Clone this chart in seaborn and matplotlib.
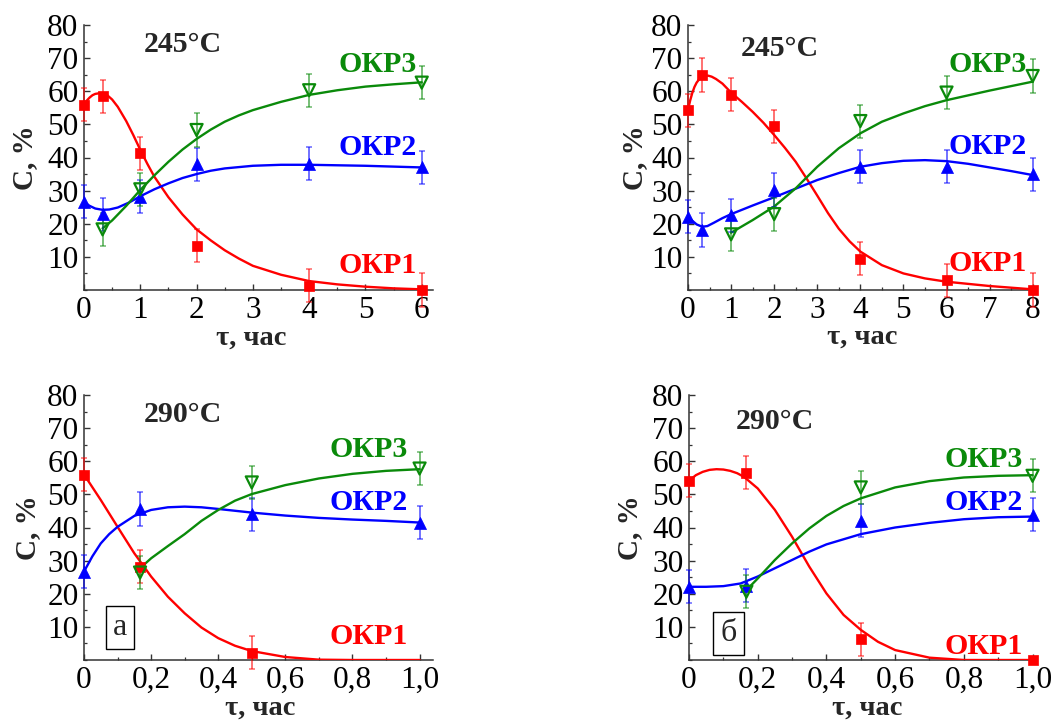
import matplotlib
matplotlib.use("Agg")
import matplotlib.pyplot as plt
from matplotlib.ticker import MultipleLocator, FixedLocator
import seaborn as sns

RED, BLUE, GREEN = "#ff0000", "#0000ff", "#0a8a0a"

# ---------- 245 °C, sample а (top left) ----------
t_a245 = [0, 0.33, 1, 2, 4, 6]
okr1_a245 = [56, 58.5, 41.3, 13.4, 1.3, 0]
okr2_a245 = [26.6, 22.9, 28.1, 38, 38.1, 37]
t3_a245 = [0.33, 1, 2, 4, 6]
okr3_a245 = [18.3, 30.4, 48.3, 60.3, 62.6]
err1_a245 = [5, 5, 5, 5, 5, 5]
err2_a245 = [5, 5, 5, 5, 5, 5]
err3_a245 = [5, 5, 5, 5, 5]

fit1_t_a245 = [0, 0.05, 0.1, 0.15, 0.2, 0.27, 0.33, 0.4, 0.5, 0.6, 0.75, 0.875, 1, 1.125, 1.25,
               1.5, 1.75, 2, 2.25, 2.5, 2.75, 3, 3.5, 4, 4.5, 5, 5.5, 6]
fit1_c_a245 = [56, 57.2, 58.1, 58.8, 59.2, 59.4, 59.4, 59.0, 57.5, 55.3, 51.0, 46.8, 42.3, 38.1, 34.2,
               28.0, 22.8, 18.3, 15.0, 12.0, 9.5, 7.3, 4.6, 2.7, 1.7, 1.0, 0.5, 0.2]
fit2_t_a245 = [0, 0.1, 0.2, 0.33, 0.45, 0.6, 0.8, 1, 1.25, 1.5, 1.75, 2, 2.25, 2.5, 3, 3.5, 4, 5, 6]
fit2_c_a245 = [26.5, 25.4, 24.6, 24.2, 24.3, 24.9, 26.4, 28.3, 30.4, 32.2, 33.8, 35.0, 36.0, 36.7,
               37.5, 37.8, 37.8, 37.5, 37]
fit3_t_a245 = [0.33, 0.5, 0.75, 1, 1.25, 1.5, 1.75, 2, 2.25, 2.5, 2.75, 3, 3.5, 4, 4.5, 5, 5.5, 6]
fit3_c_a245 = [18.6, 21, 25.4, 30.2, 34.6, 38.7, 42.4, 45.6, 48.4, 50.8, 52.7, 54.3, 56.8, 58.9,
               60.3, 61.4, 62.1, 62.7]

# ---------- 245 °C, sample б (top right) ----------
t_b245 = [0, 0.33, 1, 2, 4, 6, 8]
okr1_b245 = [54.3, 64.9, 59, 49.4, 9.4, 3, 0]
okr2_b245 = [22.1, 18.1, 22.6, 30.2, 37.2, 37.2, 35]
t3_b245 = [1, 2, 4, 6, 8]
okr3_b245 = [16.8, 22.9, 51, 59.6, 64.6]
err1_b245 = [5, 5, 5, 5, 5, 5, 5]
err2_b245 = [5, 5, 5, 5, 5, 5, 5]
err3_b245 = [5, 5, 5, 5, 5]

fit1_t_b245 = [0, 0.05, 0.1, 0.15, 0.2, 0.27, 0.33, 0.4, 0.47, 0.55, 0.65, 0.8, 1, 1.25, 1.5, 1.75,
               2, 2.25, 2.5, 2.75, 3, 3.25, 3.5, 3.75, 4, 4.5, 5, 5.5, 6, 7, 8]
fit1_c_b245 = [54.3, 57.2, 59.5, 61.3, 62.6, 63.8, 64.4, 64.7, 64.7, 64.4, 63.7, 62.3, 59.6, 56.8,
               53.8, 50.5, 46.8, 42.9, 38.7, 33.7, 28.5, 23.2, 18.5, 14.7, 11.6, 7.5, 5, 3.5, 2.5,
               1.2, 0.2]
fit2_t_b245 = [0, 0.1, 0.2, 0.33, 0.45, 0.6, 0.8, 1, 1.5, 2, 2.5, 3, 3.5, 4, 4.5, 5, 5.5, 6, 6.5,
               7, 7.5, 8]
fit2_c_b245 = [22.1, 20.9, 19.8, 19.1, 19.3, 20.3, 21.7, 22.9, 25.5, 28, 30.6, 33.2, 35.3, 37.2,
               38.3, 39, 39.2, 38.9, 38.1, 37, 35.9, 34.7]
fit3_t_b245 = [1, 1.5, 2, 2.5, 3, 3.5, 4, 4.5, 5, 5.5, 6, 7, 8]
fit3_c_b245 = [17.3, 21.1, 25.2, 30.7, 37.2, 42.8, 47.3, 50.8, 53.3, 55.5, 57.3, 60.2, 62.9]

# ---------- 290 °C, sample а (bottom left) ----------
t_a290 = [0, 0.167, 0.5]
okr1_a290 = [56, 28.2, 2.2]
t2_a290 = [0, 0.167, 0.5, 1]
okr2_a290 = [26.7, 45.6, 44, 41.4]
t3_a290 = [0.167, 0.5, 1]
okr3_a290 = [26.4, 53.6, 57.8]
err1_a290 = [5, 5, 5]
err2_a290 = [5, 5, 5, 5]
err3_a290 = [5, 5, 5]

fit1_t_a290 = [0, 0.05, 0.1, 0.15, 0.2, 0.25, 0.3, 0.35, 0.4, 0.45, 0.5, 0.6, 0.7, 0.8, 0.9, 1.0]
fit1_c_a290 = [56, 48.3, 40.2, 32.2, 25.2, 19.1, 14.1, 9.8, 6.6, 4.3, 2.7, 0.9, 0.1, 0, 0, 0]
fit2_t_a290 = [0, 0.025, 0.05, 0.075, 0.1, 0.15, 0.2, 0.25, 0.3, 0.35, 0.4, 0.5, 0.6, 0.7, 0.8,
               0.9, 1.0]
fit2_c_a290 = [26.7, 31.3, 35.2, 38.0, 40.2, 43.5, 45.3, 46.1, 46.3, 46.1, 45.6, 44.5, 43.6, 42.9,
               42.4, 42, 41.5]
fit3_t_a290 = [0.167, 0.2, 0.25, 0.3, 0.35, 0.4, 0.45, 0.5, 0.6, 0.7, 0.8, 0.9, 1.0]
fit3_c_a290 = [27.7, 30.7, 34.4, 38, 42, 45.3, 48.1, 50.1, 52.8, 54.8, 56.2, 57.1, 57.6]

# ---------- 290 °C, sample б (bottom right) ----------
t_b290 = [0, 0.167, 0.5, 1]
okr1_b290 = [54.1, 56.6, 6.3, 0]
okr2_b290 = [22.1, 22.4, 42, 43.8]
t3_b290 = [0.167, 0.5, 1]
okr3_b290 = [20.6, 52.1, 55.6]
err1_b290 = [5, 5, 5, 0]
err2_b290 = [5, 5, 5, 5]
err3_b290 = [5, 5, 5]

fit1_t_b290 = [0, 0.02, 0.04, 0.06, 0.08, 0.1, 0.12, 0.14, 0.16, 0.2, 0.25, 0.3, 0.35, 0.4, 0.45,
               0.5, 0.55, 0.6, 0.7, 0.8, 0.9, 1.0]
fit1_c_b290 = [54.1, 55.8, 56.8, 57.4, 57.6, 57.5, 57.1, 56.4, 55.3, 51.8, 45.3, 37.2, 28.2, 20.1,
               13.6, 9.1, 5.5, 3, 0.7, 0, 0, 0]
fit2_t_b290 = [0, 0.05, 0.1, 0.15, 0.2, 0.25, 0.3, 0.35, 0.4, 0.5, 0.6, 0.7, 0.8, 0.9, 1.0]
fit2_c_b290 = [22.1, 22.1, 22.3, 23.1, 25.2, 27.7, 30.2, 32.7, 34.9, 38, 40, 41.4, 42.5, 43.1, 43.3]
fit3_t_b290 = [0.167, 0.2, 0.25, 0.3, 0.35, 0.4, 0.45, 0.5, 0.6, 0.7, 0.8, 0.9, 1.0]
fit3_c_b290 = [21.1, 24.6, 30.2, 35.2, 39.7, 43.5, 46.5, 48.8, 52.1, 54, 55.1, 55.6, 55.8]

X_TICKS_TOP_A = [0, 1, 2, 3, 4, 5, 6]
X_TICKS_TOP_B = [0, 1, 2, 3, 4, 5, 6, 7, 8]
X_TICKS_BOTTOM = [0, 0.2, 0.4, 0.6, 0.8, 1.0]
X_LABELS_BOTTOM = ["0", "0,2", "0,4", "0,6", "0,8", "1,0"]
Y_TICKS = [10, 20, 30, 40, 50, 60, 70, 80]

sns.set_theme(style="ticks")
plt.rcParams["font.family"] = ["Liberation Serif", "DejaVu Serif"]
plt.rcParams["axes.edgecolor"] = "#333333"

fig = plt.figure(figsize=(10.55, 7.2), dpi=100)

panels = [
    dict(rect=[84, 25, 349], xlim=6.2, xt=X_TICKS_TOP_A, xl=None, xminor=0.5,
         pts=[(t_a245, okr1_a245, err1_a245), (t_a245, okr2_a245, err2_a245),
              (t3_a245, okr3_a245, err3_a245)],
         fits=[(fit1_t_a245, fit1_c_a245), (fit2_t_a245, fit2_c_a245), (fit3_t_a245, fit3_c_a245)],
         title="245°C", title_xy=(1.76, 74), lab_x=5.92, lab_y=(7.5, 42.9, 68),
         ylab=(-0.169, 0.5), xlab=(0.48, -0.18), box=None),
    dict(rect=[688, 25, 349], xlim=8.1, xt=X_TICKS_TOP_B, xl=None, xminor=0.5,
         pts=[(t_b245, okr1_b245, err1_b245), (t_b245, okr2_b245, err2_b245),
              (t3_b245, okr3_b245, err3_b245)],
         fits=[(fit1_t_b245, fit1_c_b245), (fit2_t_b245, fit2_c_b245), (fit3_t_b245, fit3_c_b245)],
         title="245°C", title_xy=(2.12, 73), lab_x=7.87, lab_y=(8.1, 43.2, 68),
         ylab=(-0.152, 0.5), xlab=(0.50, -0.178), box=None),
    dict(rect=[84, 395, 349], xlim=1.04, xt=X_TICKS_BOTTOM, xl=X_LABELS_BOTTOM, xminor=0.1,
         pts=[(t_a290, okr1_a290, err1_a290), (t2_a290, okr2_a290, err2_a290),
              (t3_a290, okr3_a290, err3_a290)],
         fits=[(fit1_t_a290, fit1_c_a290), (fit2_t_a290, fit2_c_a290), (fit3_t_a290, fit3_c_a290)],
         title="290°C", title_xy=(0.296, 74), lab_x=0.964, lab_y=(7, 47.4, 63.4),
         ylab=(-0.163, 0.5), xlab=(0.504, -0.18), box=("а", 0.107, 9.7)),
    dict(rect=[689, 395, 347], xlim=1.01, xt=X_TICKS_BOTTOM, xl=X_LABELS_BOTTOM, xminor=0.1,
         pts=[(t_b290, okr1_b290, err1_b290), (t_b290, okr2_b290, err2_b290),
              (t3_b290, okr3_b290, err3_b290)],
         fits=[(fit1_t_b290, fit1_c_b290), (fit2_t_b290, fit2_c_b290), (fit3_t_b290, fit3_c_b290)],
         title="290°C", title_xy=(0.249, 72), lab_x=0.97, lab_y=(4, 47.4, 60.4),
         ylab=(-0.17, 0.5), xlab=(0.513, -0.183), box=("б", 0.115, 8)),
]

W, H = 1055.0, 720.0
colors = [RED, BLUE, GREEN]
markers = ["s", "^", "v"]
sizes = [50, 75, 75]
names = ["ОКР1", "ОКР2", "ОКР3"]

for p in panels:
    left, top, width = p["rect"]
    ax = fig.add_axes([left / W, (H - top - 265) / H, width / W, 265 / H])

    for (ft, fc), col in zip(p["fits"], colors):
        sns.lineplot(x=ft, y=fc, ax=ax, color=col, lw=1.7, sort=False,
                     estimator=None, errorbar=None, zorder=3)

    for (t, c, e), col, mk, s in zip(p["pts"], colors, markers, sizes):
        ax.errorbar(t, c, yerr=e, fmt="none", ecolor=col, alpha=0.6,
                    elinewidth=1.3, capsize=2.5, capthick=1.1, clip_on=False, zorder=4)
        if mk == "v":
            ax.scatter(t, c, marker=mk, s=s, facecolors="none", edgecolors=col,
                       linewidths=1.6, clip_on=False, zorder=5)
        else:
            sns.scatterplot(x=t, y=c, ax=ax, marker=mk, s=s, color=col,
                            edgecolor=col, linewidth=0.5, clip_on=False, zorder=5)

    ax.set_xlim(0, p["xlim"])
    ax.set_ylim(0, 80)
    sns.despine(ax=ax)
    for side in ("left", "bottom"):
        ax.spines[side].set_linewidth(1.1)

    ax.xaxis.set_major_locator(FixedLocator(p["xt"]))
    if p["xl"] is not None:
        ax.set_xticklabels(p["xl"])
    ax.xaxis.set_minor_locator(MultipleLocator(p["xminor"]))
    ax.yaxis.set_major_locator(FixedLocator(Y_TICKS))
    ax.yaxis.set_minor_locator(MultipleLocator(5))
    ax.tick_params(which="major", direction="in", length=4, width=1,
                   labelsize=22.5, pad=4, colors="#333333", labelcolor="black")
    ax.tick_params(which="minor", direction="in", length=2.5, width=0.9, colors="#333333")

    ax.set_ylabel("C, %", fontsize=21, fontweight="bold", ha="center", va="center")
    ax.yaxis.set_label_coords(*p["ylab"])
    ax.set_xlabel("τ, час", fontsize=20.5, fontweight="bold", ha="center", va="center")
    ax.xaxis.set_label_coords(*p["xlab"])

    ax.text(*p["title_xy"], p["title"], fontsize=21.5, fontweight="bold",
            ha="center", va="center")
    for name, y, col in zip(names, p["lab_y"], colors):
        ax.text(p["lab_x"], y, name, fontsize=21.5, fontweight="bold", color=col,
                ha="right", va="center")
    if p["box"] is not None:
        txt, bx, by = p["box"]
        ax.text(bx, by, txt, fontsize=23, ha="center", va="center",
                bbox=dict(boxstyle="square,pad=0.22", fc="white", ec="black", lw=1))

fig.savefig("out.png", dpi=100)
